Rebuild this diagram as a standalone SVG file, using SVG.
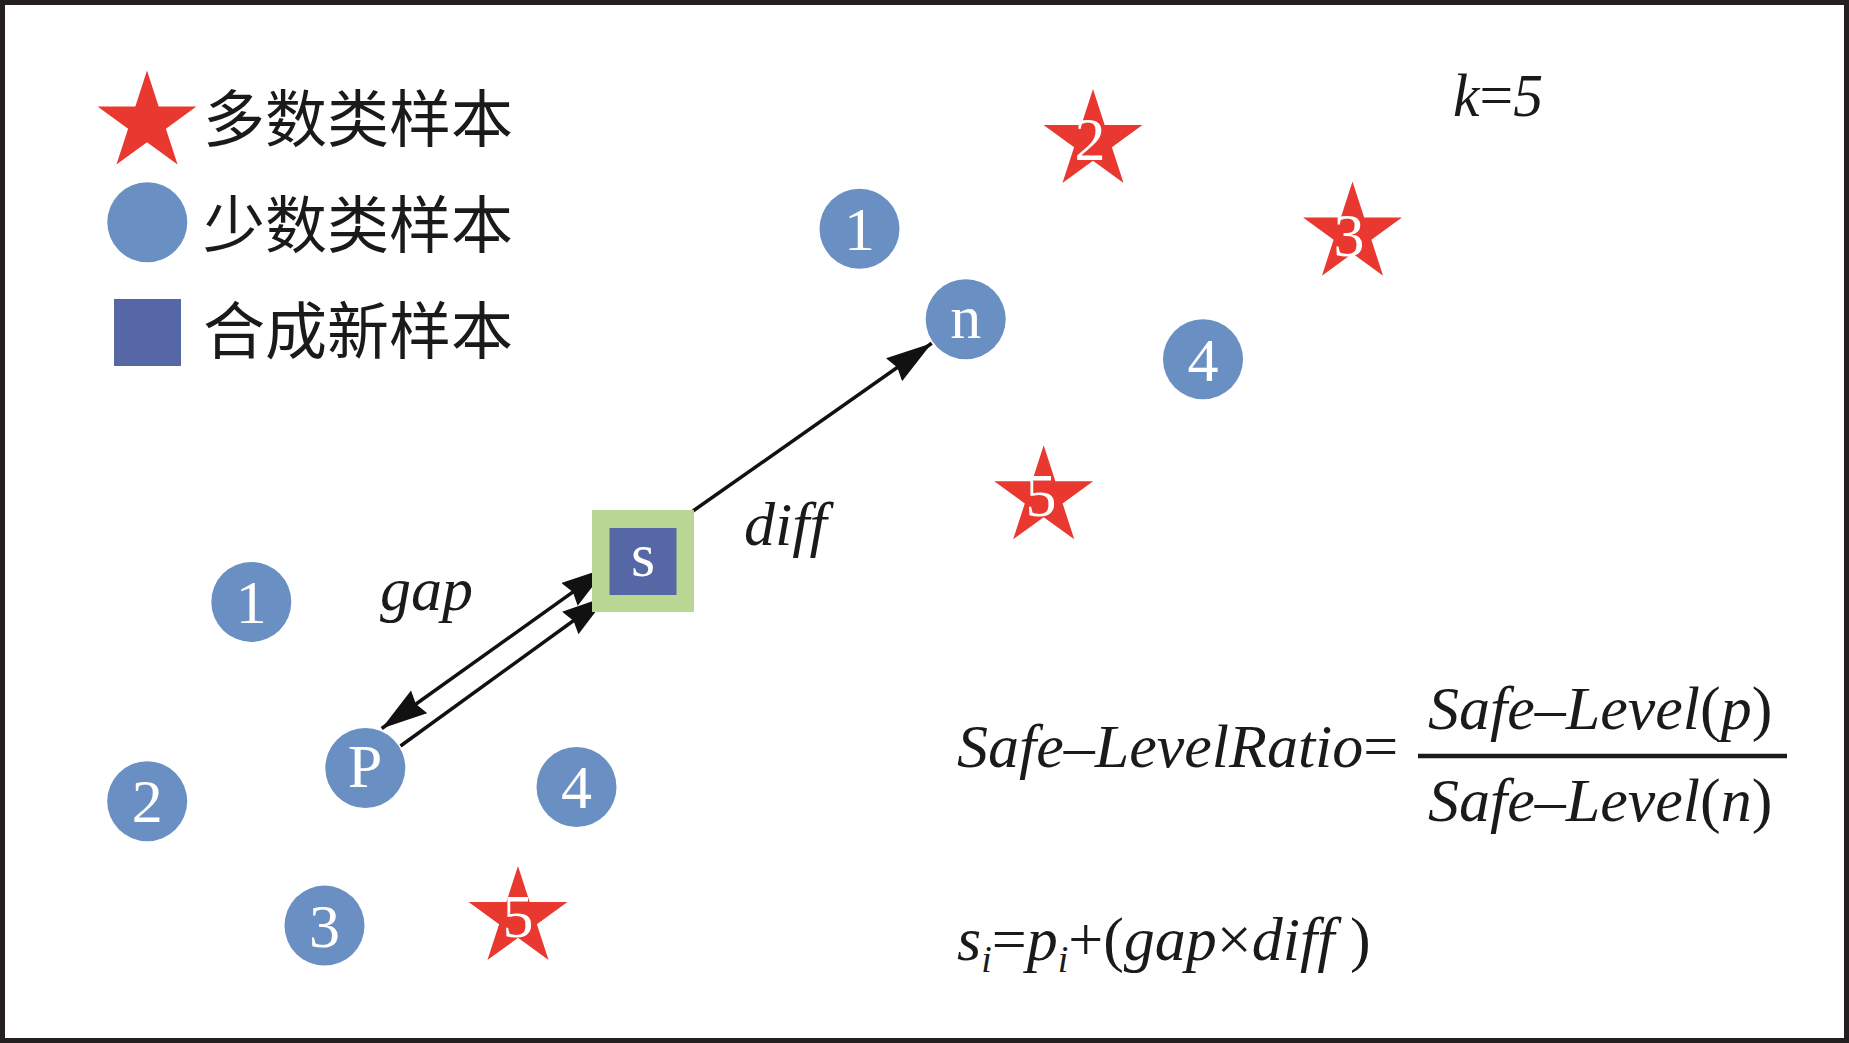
<svg xmlns="http://www.w3.org/2000/svg" xmlns:xlink="http://www.w3.org/1999/xlink" width="1849" height="1043" viewBox="0 0 1849 1043">
<defs>
<style>
.maj{fill:#e8382f}
.min{fill:#6a8fc2}
.lbl{font-family:"Liberation Serif","Times New Roman",serif;font-size:62px;fill:#ffffff;text-anchor:middle}
.cjk{font-family:"Noto Sans CJK SC","Noto Sans CJK JP",sans-serif;font-size:62px;fill:#1a1a1a}
.math{font-family:"Liberation Serif","Times New Roman",serif;font-size:62px;fill:#1a1a1a}
.it{font-style:italic}
.up{font-style:normal}
.conn{stroke:#111111;stroke-width:3.5;fill:none}
</style>
<path id="star" d="M0,-52 L11.67,-16.07 L49.45,-16.07 L18.89,6.14 L30.56,42.07 L0,19.86 L-30.56,42.07 L-18.89,6.14 L-49.45,-16.07 L-11.67,-16.07 Z"/>
<marker id="ah" markerUnits="userSpaceOnUse" markerWidth="52" markerHeight="32" refX="46" refY="14" orient="auto-start-reverse">
<path d="M0,0 L46,14 L0,28 L4,14 Z" fill="#111111"/>
</marker>
</defs>
<rect x="2.5" y="2.5" width="1844" height="1038" fill="#ffffff" stroke="#231f20" stroke-width="5"/>

<g id="legend">
<use xlink:href="#star" class="maj" transform="translate(147,122.5)"/>
<circle class="min" cx="147.3" cy="222.3" r="40"/>
<rect x="114" y="299" width="67" height="67" fill="#5567a4"/>
<text class="cjk" x="203" y="142">多数类样本</text>
<text class="cjk" x="203" y="248">少数类样本</text>
<text class="cjk" x="203" y="354">合成新样本</text>
</g>

<g id="k-label"><text class="math it" x="1453" y="116" font-size="60" textLength="90" lengthAdjust="spacingAndGlyphs">k<tspan class="up">=</tspan>5</text></g>

<g id="connectors">
<line class="conn" x1="693" y1="511" x2="931.7" y2="343.3" marker-end="url(#ah)"/>
<line class="conn" x1="381.7" y1="728.5" x2="607" y2="567.7" marker-start="url(#ah)" marker-end="url(#ah)"/>
<line class="conn" x1="400.5" y1="746" x2="607.5" y2="596" marker-end="url(#ah)"/>
</g>

<g id="node-s">
<rect x="592" y="510" width="102" height="102" fill="#b9d692"/>
<rect x="609.5" y="528" width="67" height="67" fill="#5567a4"/>
<text class="lbl" x="643" y="576" font-size="60">s</text>
</g>

<g id="node-n"><circle class="min" cx="965.7" cy="319.3" r="40"/><text class="lbl" x="965.7" y="338">n</text></g>
<g id="node-n1"><circle class="min" cx="859.5" cy="228.7" r="40"/><text class="lbl" x="859.5" y="249.5">1</text></g>
<g id="node-n4"><circle class="min" cx="1203" cy="359.3" r="40"/><text class="lbl" x="1203" y="380.5">4</text></g>
<g id="node-s2"><use xlink:href="#star" class="maj" transform="translate(1093,141)"/><text class="lbl" x="1090" y="159.5">2</text></g>
<g id="node-s3"><use xlink:href="#star" class="maj" transform="translate(1352.5,233.6)"/><text class="lbl" x="1349" y="256">3</text></g>
<g id="node-s5r"><use xlink:href="#star" class="maj" transform="translate(1043.7,497.3)"/><text class="lbl" x="1041" y="516">5</text></g>

<g id="node-p"><circle class="min" cx="365.3" cy="768" r="40"/><text class="lbl" x="365" y="786.6" font-size="54">P</text></g>
<g id="node-p1"><circle class="min" cx="251.3" cy="601.9" r="40"/><text class="lbl" x="251.3" y="623">1</text></g>
<g id="node-p2"><circle class="min" cx="147.2" cy="801.2" r="40"/><text class="lbl" x="147.2" y="822.3">2</text></g>
<g id="node-p3"><circle class="min" cx="324.5" cy="925.6" r="40"/><text class="lbl" x="324.5" y="946.7">3</text></g>
<g id="node-p4"><circle class="min" cx="576.5" cy="787" r="40"/><text class="lbl" x="576.5" y="808.1">4</text></g>
<g id="node-p5"><use xlink:href="#star" class="maj" transform="translate(518,918)"/><text class="lbl" x="518" y="937">5</text></g>

<g id="labels">
<text class="math it" x="380" y="610">gap</text>
<text class="math it" x="744" y="545">diff</text>
</g>

<g id="formula-ratio">
<text class="math it" x="957" y="767">Safe–LevelRatio<tspan class="up">=</tspan></text>
<text class="math it" x="1428" y="729">Safe–Level<tspan class="up">(</tspan>p<tspan class="up">)</tspan></text>
<line x1="1418" y1="756" x2="1787" y2="756" stroke="#1a1a1a" stroke-width="4.5"/>
<text class="math it" x="1428" y="821">Safe–Level<tspan class="up">(</tspan>n<tspan class="up">)</tspan></text>
</g>

<g id="formula-s">
<text class="math it" x="957" y="960">s<tspan font-size="38" dy="12">i</tspan><tspan class="up" dy="-12">=</tspan>p<tspan font-size="38" dy="12">i</tspan><tspan class="up" dy="-12">+(</tspan>gap<tspan class="up">×</tspan>diff<tspan class="up"> )</tspan></text>
</g>
</svg>
